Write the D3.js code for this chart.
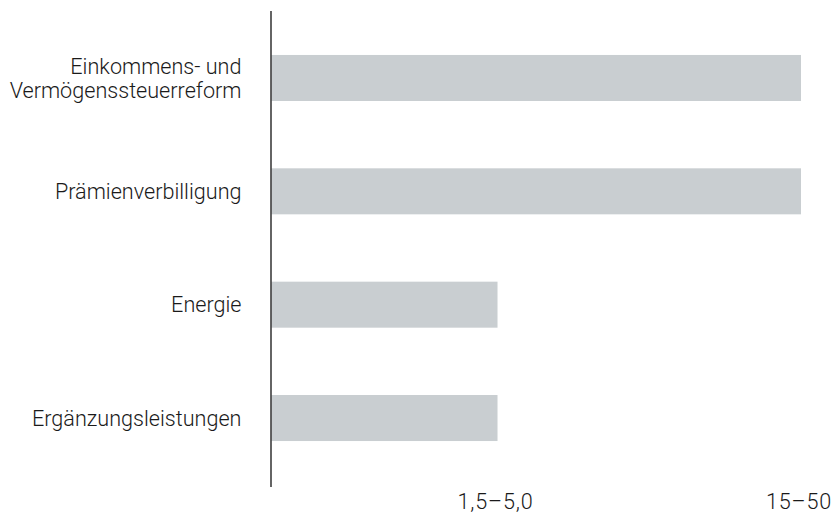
<!DOCTYPE html>
<html><head><meta charset="utf-8">
<script src="https://cdn.jsdelivr.net/npm/d3@7"></script>
<style>body{margin:0;background:#fff}</style>
</head><body>
<svg id="c" width="838" height="519"></svg>
<script>
const categories = [["Einkommens- und","Vermögenssteuerreform"],["Prämienverbilligung"],["Energie"],["Ergänzungsleistungen"]];
const upperBounds = [50, 50, 5, 5];
const tickValues = [5, 50];
const tickLabels = ["1,5\u20135,0", "15\u201350"];

const svg = d3.select("#c");
const x0 = 271.5;
const x = d3.scaleLog().domain([0.9, 50]).range([x0, 801]);
const y = d3.scaleBand().domain(d3.range(categories.length)).range([21.3, 474.7])
  .paddingInner(0.594).paddingOuter(0.297);
const font = "Roboto, 'Liberation Sans', sans-serif";
const fs = 21.6;

svg.selectAll("rect.bar").data(upperBounds).join("rect")
  .attr("class","bar")
  .attr("x", x0)
  .attr("y", (d,i)=>y(i))
  .attr("width", d=>x(d)-x0)
  .attr("height", y.bandwidth())
  .attr("fill", "#c9ced1");

svg.append("line").attr("x1",x0-0.5).attr("x2",x0-0.5).attr("y1",11).attr("y2",487)
  .attr("stroke","#111").attr("stroke-width",1.3);

const lab = svg.selectAll("text.cat").data(categories).join("text")
  .attr("class","cat")
  .attr("text-anchor","end")
  .attr("font-family",font).attr("font-size",fs).attr("font-weight",300)
  .attr("fill","#1a1a1a");
lab.each(function(lines,i){
  const cy = y(i)+y.bandwidth()/2;
  const lh = 24;
  const start = cy - (lines.length-1)*lh/2;
  d3.select(this).selectAll("tspan").data(lines).join("tspan")
    .attr("x",241.5).attr("y",(d,j)=>start+j*lh).attr("dy","0.35em").text(d=>d);
});

svg.selectAll("text.tick").data(tickValues).join("text")
  .attr("class","tick")
  .attr("x", d=>x(d)-2).attr("y", 509)
  .attr("text-anchor","middle")
  .attr("font-family",font).attr("font-size",fs).attr("font-weight",300)
  .attr("fill","#1a1a1a")
  .attr("letter-spacing", 0.8)
  .text((d,i)=>tickLabels[i]);
</script>
</body></html>
